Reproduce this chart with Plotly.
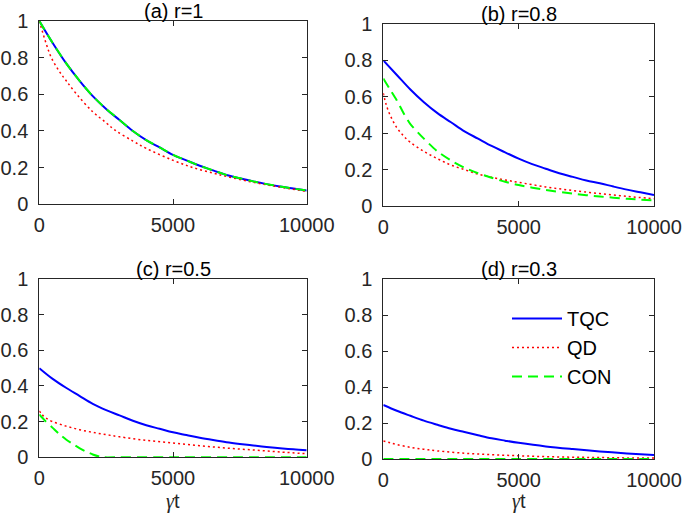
import plotly.graph_objects as go

# ---------------- data ----------------
t_a = [0, 500, 1000, 1500, 2000, 2500, 3000, 3500, 4000, 4500, 5000, 5500, 6000, 6500, 7000,
       7500, 8000, 8500, 9000, 9500, 10000]
tqc_a = [1.0, 0.88, 0.77, 0.675, 0.59, 0.52, 0.46, 0.40, 0.35, 0.31, 0.27, 0.24, 0.21, 0.185,
         0.16, 0.142, 0.125, 0.11, 0.097, 0.086, 0.075]
con_a = [1.0, 0.88, 0.77, 0.675, 0.59, 0.52, 0.46, 0.40, 0.35, 0.31, 0.27, 0.24, 0.21, 0.185,
         0.16, 0.142, 0.125, 0.11, 0.097, 0.086, 0.075]
tq_a = [0, 250, 450, 750, 1000, 1400, 2000, 2500, 2830, 3500, 4000, 5000, 5750, 6500, 7000,
        8000, 9000, 10000]
qd_a = [1.0, 0.88, 0.80, 0.725, 0.675, 0.60, 0.505, 0.445, 0.405, 0.345, 0.305, 0.24, 0.20,
        0.17, 0.152, 0.12, 0.094, 0.07]

t_b = [0, 500, 1000, 1500, 2000, 2500, 3000, 3500, 4000, 4500, 5000, 5500, 6000, 6500, 7000,
       7500, 8000, 8500, 9000, 9500, 10000]
tqc_b = [0.8, 0.72, 0.64, 0.57, 0.51, 0.46, 0.41, 0.37, 0.33, 0.295, 0.26, 0.23, 0.205, 0.18,
         0.16, 0.14, 0.125, 0.107, 0.09, 0.075, 0.06]
tc_b = [0, 250, 500, 750, 1000, 1500, 2000, 2500, 3000, 3500, 4000, 4500, 5000, 6000, 7000,
        8000, 9000, 10000]
con_b = [0.70, 0.64, 0.58, 0.51, 0.45, 0.37, 0.30, 0.25, 0.21, 0.18, 0.155, 0.133, 0.115, 0.088,
         0.068, 0.052, 0.04, 0.03]
tq_b = [0, 100, 250, 500, 750, 1000, 1500, 2000, 2500, 3000, 3500, 4000, 4500, 5000, 6000, 7000,
        8000, 9000, 10000]
qd_b = [0.62, 0.56, 0.50, 0.43, 0.385, 0.35, 0.30, 0.26, 0.225, 0.20, 0.175, 0.158, 0.143, 0.13,
        0.105, 0.085, 0.068, 0.053, 0.04]

t_c = [0, 500, 1000, 1500, 2000, 2500, 3000, 3500, 4000, 4500, 5000, 5500, 6000, 6500, 7000,
       7500, 8000, 8500, 9000, 9500, 10000]
tqc_c = [0.5, 0.44, 0.39, 0.345, 0.30, 0.265, 0.235, 0.205, 0.18, 0.16, 0.14, 0.125, 0.11,
         0.097, 0.085, 0.075, 0.066, 0.058, 0.051, 0.045, 0.04]
tq_c = [0, 100, 250, 500, 1000, 1500, 2000, 2500, 3000, 4000, 5000, 6000, 7000, 8000, 9000, 10000]
qd_c = [0.26, 0.24, 0.22, 0.20, 0.175, 0.155, 0.14, 0.127, 0.115, 0.095, 0.08, 0.065, 0.052,
        0.041, 0.03, 0.02]
tc_c = [0, 250, 500, 750, 1000, 1250, 1500, 1750, 2000, 2250, 2400, 3000, 5000, 7500, 10000]
con_c = [0.24, 0.20, 0.165, 0.13, 0.10, 0.075, 0.052, 0.032, 0.016, 0.004, 0.0, 0.0, 0.0, 0.0, 0.0]

t_d = [0, 500, 1000, 1500, 2000, 2500, 3000, 3500, 4000, 4500, 5000, 6000, 7000, 8000, 9000, 10000]
tqc_d = [0.3, 0.268, 0.24, 0.213, 0.19, 0.168, 0.15, 0.132, 0.115, 0.102, 0.09, 0.07, 0.055,
         0.042, 0.031, 0.022]
tq_d = [0, 250, 500, 1000, 1500, 2000, 3000, 4000, 5000, 6000, 7000, 8000, 9000, 10000]
qd_d = [0.1, 0.09, 0.08, 0.065, 0.054, 0.045, 0.032, 0.024, 0.018, 0.013, 0.01, 0.008, 0.006, 0.005]
tc_d = [0, 2500, 5000, 7500, 10000]
con_d = [0, 0, 0, 0, 0]

titles = ["(a) r=1", "(b) r=0.8", "(c) r=0.5", "(d) r=0.3"]
y_ticks = [0, 0.2, 0.4, 0.6, 0.8, 1]
y_ticklabels = ["0", "0.2", "0.4", "0.6", "0.8", "1"]
x_ticks = [0, 5000, 10000]
x_ticklabels = ["0", "5000", "10000"]
names = ["TQC", "QD", "CON"]

panels = [
    (t_a, tqc_a, tq_a, qd_a, t_a, con_a),
    (t_b, tqc_b, tq_b, qd_b, tc_b, con_b),
    (t_c, tqc_c, tq_c, qd_c, tc_c, con_c),
    (t_d, tqc_d, tq_d, qd_d, tc_d, con_d),
]

# ---------------- layout geometry ----------------
W, H = 685, 513
px_boxes = [  # left, right, top, bottom in pixels
    (39.3, 306.7, 21.0, 204.3),
    (383.3, 654.0, 24.0, 206.0),
    (39.3, 306.7, 279.0, 457.3),
    (383.3, 654.0, 279.0, 459.0),
]

FONT = "Liberation Sans, Arial, Helvetica, sans-serif"
AX = "#262626"
BLUE, RED, GREEN = "#0000ff", "#ff0000", "#00ff00"

fig = go.Figure()
for i, (tb, yb, tr, yr, tg, yg) in enumerate(panels):
    xa = "x" if i == 0 else f"x{i+1}"
    ya = "y" if i == 0 else f"y{i+1}"
    show = (i == 3)
    fig.add_trace(go.Scatter(x=tb, y=yb, mode="lines", name=names[0], xaxis=xa, yaxis=ya,
                             line=dict(color=BLUE, width=2, shape="spline", smoothing=1.0),
                             showlegend=show, legendrank=1))
    fig.add_trace(go.Scatter(x=tr, y=yr, mode="lines", name=names[1], xaxis=xa, yaxis=ya,
                             line=dict(color=RED, width=1.5, dash="2px,3px", shape="spline", smoothing=1.0),
                             showlegend=show, legendrank=2))
    fig.add_trace(go.Scatter(x=tg, y=yg, mode="lines", name=names[2], xaxis=xa, yaxis=ya,
                             line=dict(color=GREEN, width=2, dash="10px,6px", shape="spline", smoothing=0.6),
                             showlegend=show, legendrank=3))

axis_common = dict(showline=True, linecolor=AX, linewidth=1, mirror="ticks",
                   ticks="inside", ticklen=5, tickcolor=AX, tickwidth=1,
                   showgrid=False, zeroline=False, automargin=False,
                   tickfont=dict(family=FONT, size=20, color=AX))

layout = dict(width=W, height=H, margin=dict(l=0, r=0, t=0, b=0, autoexpand=False),
              paper_bgcolor="white", plot_bgcolor="white", showlegend=True)
annotations = []
for i, (l, r, t, b) in enumerate(px_boxes):
    xk = "xaxis" if i == 0 else f"xaxis{i+1}"
    yk = "yaxis" if i == 0 else f"yaxis{i+1}"
    ya = "y" if i == 0 else f"y{i+1}"
    xa = "x" if i == 0 else f"x{i+1}"
    layout[xk] = dict(domain=[l / W, r / W], range=[0, 10000], anchor=ya,
                      tickvals=x_ticks, ticktext=x_ticklabels, ticklabelstandoff=3,
                      **axis_common)
    layout[yk] = dict(domain=[1 - b / H, 1 - t / H], range=[0, 1], anchor=xa,
                      tickvals=y_ticks, ticktext=y_ticklabels, ticklabelstandoff=6,
                      **axis_common)
    annotations.append(dict(text=titles[i], x=(l + r) / 2 / W, y=1 - (t - 10) / H,
                            xref="paper", yref="paper", showarrow=False,
                            xanchor="center", yanchor="middle",
                            font=dict(family=FONT, size=20, color="black")))
    if i >= 2:
        annotations.append(dict(text="<span style=\"font-family:'Liberation Serif'\"><i>γ</i></span>t",
                                x=(l + r) / 2 / W, y=1 - 501 / H,
                                xref="paper", yref="paper", showarrow=False,
                                xanchor="center", yanchor="middle",
                                font=dict(family=FONT, size=20, color=AX)))

layout["annotations"] = annotations
layout["legend"] = dict(x=507 / W, y=1 - 299 / H, xanchor="left", yanchor="top",
                        bgcolor="rgba(0,0,0,0)", borderwidth=0,
                        font=dict(family=FONT, size=20, color="black"),
                        itemwidth=50, tracegroupgap=0)
fig.update_layout(**layout)
fig.write_html("out.html", config={"displayModeBar": False},
               post_script="document.body.style.margin='0';document.body.style.overflow='hidden';")
